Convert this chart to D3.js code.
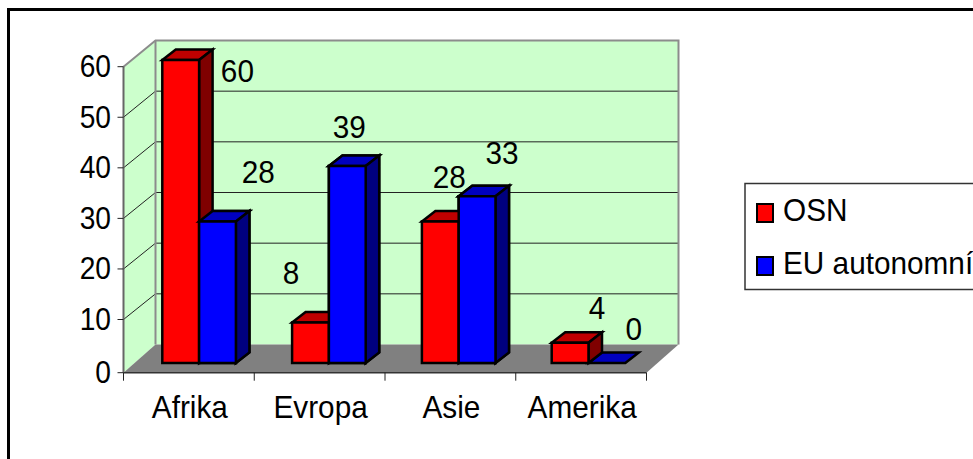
<!DOCTYPE html>
<html><head><meta charset="utf-8">
<script src="https://cdn.jsdelivr.net/npm/d3@7/dist/d3.min.js"></script>
<style>html,body{margin:0;padding:0;background:#fff;overflow:hidden}svg{display:block}text{font-family:"Liberation Sans",Arial,sans-serif;fill:#000}</style>
</head><body><svg id="c" width="973" height="459"></svg>
<script>
const categories = ["Afrika","Evropa","Asie","Amerika"];
const seriesNames = ["OSN","EU autonomní"];
const osn = [60,8,28,4];
const euAutonomni = [28,39,33,0];
const yTicks = [0,10,20,30,40,50,60];
const seriesColors = [
  {front:"#ff0000",top:"#bf0000",side:"#7f0000"},
  {front:"#0000ff",top:"#0000bf",side:"#00007f"}
];
const series = [osn, euAutonomni];
// hand-placed data labels in the original: offset from each bar's top centre
const osnLabelOffset = [[56.7,21.7],[-19.5,-39],[9,-34],[27,-24]];
const euLabelOffset = [[40.7,-39],[2,-28.5],[25,-32],[27,-23]];
const labelOffsets = [osnLabelOffset, euLabelOffset];

const svg = d3.select("#c");
const fs = 32, sx = 0.93;

const dx = 32;
const xAxis = d3.scaleBand().domain(categories).range([123.5,646.5]);
const yFront = d3.scaleLinear().domain([0,10,60]).range([372.7,319.5,66.7]);
const yBack = d3.scaleLinear().domain([0,60]).range([344.5,40.5]);
const yBar = d3.scaleLinear().domain([0,60]).range([363,60]);
const xGroup = d3.scaleBand().domain(categories).range([162.3,681.5]);
const xSeries = d3.scaleBand().domain([0,1]).range([0,73.6]);
const depthX = 13.5, depthY = 10.5;

function label(x,y,t,anchor,scaleX){
  return svg.append("text").attr("transform",`translate(${x},${y}) scale(${scaleX||sx},1)`)
    .attr("text-anchor",anchor||"middle").attr("font-size",fs).text(t);
}
const line = d3.line();
const poly = (pts,fill,stroke,sw)=>svg.append("path").attr("d",line(pts)+"Z").attr("fill",fill)
  .attr("stroke",stroke||"none").attr("stroke-width",sw||0).attr("stroke-linejoin","miter");

// chart frame
svg.append("rect").attr("x",8.5).attr("y",9.5).attr("width",1000).attr("height",1000)
  .attr("fill","#fff").attr("stroke","#000").attr("stroke-width",3);

const xL = xAxis.range()[0], xR = xAxis.range()[1];
poly([[xL+dx,yBack(60)],[xR+dx,yBack(60)],[xR+dx,yBack(0)],[xL+dx,yBack(0)]],"#ccffcc");
poly([[xL,yFront(60)],[xL+dx,yBack(60)],[xL+dx,yBack(0)],[xL,yFront(0)]],"#ccffcc");
poly([[xL,yFront(0)],[xL+dx,yBack(0)],[xR+dx,yBack(0)],[xR,yFront(0)]],"#808080");
yTicks.filter(d=>d>0&&d<60).forEach(d=>{
  svg.append("path").attr("d",line([[xL,yFront(d)],[xL+dx,yBack(d)],[xR+dx,yBack(d)]]))
    .attr("fill","none").attr("stroke","#222").attr("stroke-width",1);
});
svg.append("path").attr("d",line([[xL,yFront(60)],[xL+dx,yBack(60)],[xR+dx,yBack(60)],[xR+dx,yBack(0)]]))
  .attr("fill","none").attr("stroke","#8c8c8c").attr("stroke-width",2);
svg.append("path").attr("d",line([[xL+dx,yBack(60)],[xL+dx,yBack(0)]]))
  .attr("fill","none").attr("stroke","#8c8c8c").attr("stroke-width",2);
svg.append("path").attr("d",line([[xL,yFront(60)],[xL,yFront(0)]]))
  .attr("fill","none").attr("stroke","#666").attr("stroke-width",2);
svg.append("path").attr("d",line([[xL,yFront(0)],[xR,yFront(0)]]))
  .attr("fill","none").attr("stroke","#333").attr("stroke-width",1.5);

yTicks.forEach(d=>{
  svg.append("line").attr("x1",xL-6).attr("x2",xL).attr("y1",yFront(d)).attr("y2",yFront(d)).attr("stroke","#222");
  label(xL-12.5,yFront(d)+10.5,d,"end",0.88);
});
const tickX = categories.map(c=>xAxis(c)).concat([xR]);
tickX.forEach(x=>svg.append("line").attr("x1",x).attr("x2",x).attr("y1",yFront(0)).attr("y2",yFront(0)+8).attr("stroke","#222"));
categories.forEach(c=>label(xAxis(c)+xAxis.bandwidth()/2+1,417.7,c));

const drawBar = (cat,si,v)=>{
  const c = seriesColors[si];
  const x0 = xGroup(cat)+xSeries(si), x1 = x0+xSeries.bandwidth();
  const yT = yBar(v), yB = yBar(0);
  const sw = 2.5;
  poly([[x0,yT],[x0+depthX,yT-depthY],[x1+depthX,yT-depthY],[x1,yT]],c.top,"#000",sw);
  if(v>0){
    poly([[x1,yT],[x1+depthX,yT-depthY],[x1+depthX,yB-depthY],[x1,yB]],c.side,"#000",sw);
    poly([[x0,yT],[x1,yT],[x1,yB],[x0,yB]],c.front,"#000",sw);
  }
};
categories.forEach((c,i)=>{ drawBar(c,1,series[1][i]); });
categories.forEach((c,i)=>{ drawBar(c,0,series[0][i]); });
categories.forEach((c,i)=>{ if(series[1][i]>0) drawBar(c,1,series[1][i]); });

categories.forEach((c,i)=>series.forEach((s,si)=>{
  const x = xGroup(c)+xSeries(si)+xSeries.bandwidth()/2;
  const off = labelOffsets[si][i];
  label(x+off[0], yBar(s[i])+off[1], s[i]);
}));

// legend
svg.append("rect").attr("x",745).attr("y",183.5).attr("width",300).attr("height",106)
  .attr("fill","#fff").attr("stroke","#333").attr("stroke-width",1.5);
seriesNames.forEach((n,i)=>{
  const yy = 212+i*53;
  svg.append("rect").attr("x",757).attr("y",yy-8).attr("width",16).attr("height",18)
    .attr("fill",seriesColors[i].front).attr("stroke","#000").attr("stroke-width",2);
  label(783,yy+9,n,"start");
});
</script></body></html>
